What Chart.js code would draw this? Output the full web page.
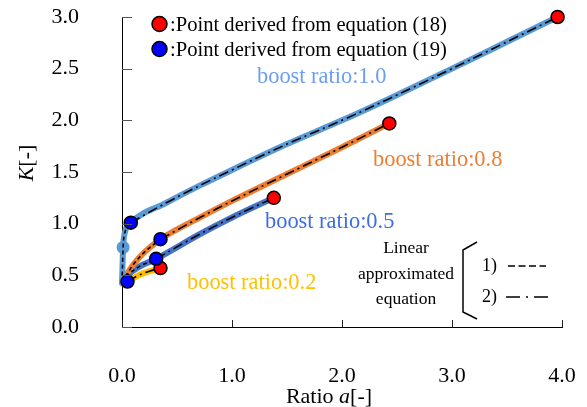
<!DOCTYPE html>
<html>
<head>
<meta charset="utf-8">
<script src="https://cdn.jsdelivr.net/npm/chart.js@4.4.1/dist/chart.umd.min.js"></script>
<style>
  html, body { margin: 0; padding: 0; background: #fff; }
  #box { position: relative; width: 587px; height: 407px; }
</style>
</head>
<body>
<div id="box"><canvas id="c"></canvas></div>
<script>
// Values: ratio a (x) against K (y) for each boost ratio.
// The blue point splits each curve into the part fitted by approximation 1)
// and the part fitted by approximation 2); the last sample is the red point.
const X_TICKS = [0, 1, 2, 3, 4];
const Y_TICKS = [0, 0.5, 1, 1.5, 2, 2.5, 3];

const ratio10 = [0.0, 0.005, 0.01, 0.03, 0.08, 0.4, 0.71, 1.0, 1.5, 2.0, 2.41, 3.0, 3.5, 3.96];
const k10 = [0.43, 0.6, 0.77, 0.93, 1.01, 1.2, 1.37, 1.52, 1.77, 2.0, 2.2, 2.5, 2.76, 3.0];
const blue10 = 4;

const ratio08 = [0.0, 0.05, 0.1, 0.2, 0.35, 0.71, 1.0, 1.5, 2.0, 2.43];
const k08 = [0.43, 0.52, 0.6, 0.72, 0.85, 1.06, 1.22, 1.48, 1.74, 1.97];
const blue08 = 4;

const ratio05 = [0.0, 0.05, 0.15, 0.31, 0.71, 1.0, 1.38];
const k05 = [0.43, 0.5, 0.58, 0.66, 0.9, 1.06, 1.25];
const blue05 = 3;

const ratio02 = [0.0, 0.05, 0.15, 0.25, 0.35];
const k02 = [0.42, 0.44, 0.5, 0.54, 0.57];
const blue02 = 1;

const SERIES = [
  {name: "boost ratio:1.0", ratio: ratio10, k: k10, blue: blue10, color: "#5B9BD5", text: "#6b9ef2"},
  {name: "boost ratio:0.8", ratio: ratio08, k: k08, blue: blue08, color: "#ED7D31", text: "#ED7D31"},
  {name: "boost ratio:0.5", ratio: ratio05, k: k05, blue: blue05, color: "#4472C4", text: "#3c6de6"},
  {name: "boost ratio:0.2", ratio: ratio02, k: k02, blue: blue02, color: "#FFC000", text: "#FFC000"},
];

const SERIF = "'Liberation Serif', 'Times New Roman', serif";

const pts = (xs, ys, from = 0, to = xs.length) =>
  xs.slice(from, to).map((x, i) => ({x, y: ys[from + i]}));

const datasets = [];
for (const s of SERIES) {
  datasets.push({
    label: s.name,
    data: pts(s.ratio, s.k),
    showLine: true,
    borderColor: s.color,
    backgroundColor: s.color,
    borderWidth: 6,
    borderCapStyle: "round",
    cubicInterpolationMode: "monotone",
    clip: false,
    // the light-blue curve shows one of its own sample dots near a = 0
    pointRadius: s.ratio === ratio10 ? (c) => (c.dataIndex === 2 ? 3.5 : 0) : 0,
    order: 3,
  });
  datasets.push({
    label: s.name + " approx 1)",
    data: pts(s.ratio, s.k, 0, s.blue + 1),
    showLine: true,
    borderColor: "#000",
    borderWidth: 1.6,
    borderDash: [4, 3],
    cubicInterpolationMode: "monotone",
    clip: false,
    pointRadius: 0,
    order: 2,
  });
  datasets.push({
    label: s.name + " approx 2)",
    data: pts(s.ratio, s.k, s.blue),
    showLine: true,
    borderColor: "#000",
    borderWidth: 1.6,
    borderDash: [10, 4, 2, 4],
    cubicInterpolationMode: "monotone",
    clip: false,
    pointRadius: 0,
    order: 2,
  });
}
datasets.push({
  label: "Point derived from equation (19)",
  data: SERIES.map((s) => ({x: s.ratio[s.blue], y: s.k[s.blue]})),
  pointRadius: 6.5,
  pointBackgroundColor: "#0000FF",
  pointBorderColor: "#000",
  pointBorderWidth: 1.5,
  showLine: false,
  clip: false,
  order: 0,
});
datasets.push({
  label: "Point derived from equation (18)",
  data: SERIES.map((s) => ({x: s.ratio[s.ratio.length - 1], y: s.k[s.k.length - 1]})),
  pointRadius: 6.5,
  pointBackgroundColor: "#FF0000",
  pointBorderColor: "#000",
  pointBorderWidth: 1.5,
  showLine: false,
  clip: false,
  order: 0,
});

// Inward tick marks, axis titles with italic symbols, the hand-made legend and
// the curve labels; the original figure has all of these as free text.
const decorPlugin = {
  id: "decor",
  afterDraw(chart) {
    const {ctx, scales: {x, y}, chartArea: a} = chart;
    ctx.save();

    ctx.lineWidth = 1;
    ctx.strokeStyle = "#555";
    for (const v of Y_TICKS) {
      const py = Math.round(y.getPixelForValue(v)) + 0.5;
      ctx.beginPath(); ctx.moveTo(a.left, py); ctx.lineTo(a.left + 10, py); ctx.stroke();
    }
    ctx.strokeStyle = "#222";
    for (const v of X_TICKS) {
      const px = Math.round(x.getPixelForValue(v)) + 0.5;
      ctx.beginPath(); ctx.moveTo(px, a.bottom); ctx.lineTo(px, a.bottom - 7); ctx.stroke();
    }

    const runs = (parts, size) => parts.map(([t, it]) => {
      ctx.font = `${it ? "italic " : ""}${size}px ${SERIF}`;
      return {t, it, w: ctx.measureText(t).width};
    });
    const drawRuns = (list, size, x0, y0) => {
      let cx = x0;
      for (const r of list) {
        ctx.font = `${r.it ? "italic " : ""}${size}px ${SERIF}`;
        ctx.fillText(r.t, cx, y0);
        cx += r.w;
      }
    };
    ctx.fillStyle = "#000";
    ctx.textAlign = "left";
    ctx.textBaseline = "alphabetic";

    // x title
    let r = runs([["Ratio ", false], ["a", true], ["[-]", false]], 22);
    let w = r.reduce((s, q) => s + q.w, 0);
    drawRuns(r, 22, 329 - w / 2, 403);

    // y title
    r = runs([["K", true], ["[-]", false]], 22);
    w = r.reduce((s, q) => s + q.w, 0);
    ctx.save();
    ctx.translate(33, 163);
    ctx.rotate(-Math.PI / 2);
    drawRuns(r, 22, -w / 2, 0);
    ctx.restore();

    // legend
    const legend = [["#FF0000", ":Point derived from equation (18)", 24], ["#0000FF", ":Point derived from equation (19)", 49]];
    for (const [fill, text, cy] of legend) {
      ctx.beginPath();
      ctx.arc(159.5, cy, 7.5, 0, Math.PI * 2);
      ctx.fillStyle = fill; ctx.fill();
      ctx.lineWidth = 1.5; ctx.strokeStyle = "#000"; ctx.stroke();
      ctx.fillStyle = "#000";
      ctx.font = `20.6px ${SERIF}`;
      ctx.fillText(text, 170, cy + 7);
    }

    // curve labels
    const labelAt = [[257, 83], [373, 166], [265, 228], [187, 289]];
    ctx.font = `22.4px ${SERIF}`;
    SERIES.forEach((s, i) => {
      ctx.fillStyle = s.text;
      ctx.fillText(s.name, labelAt[i][0], labelAt[i][1]);
    });

    // approximation key
    ctx.fillStyle = "#000";
    ctx.font = `17.5px ${SERIF}`;
    ctx.textAlign = "center";
    ctx.fillText("Linear", 406, 253);
    ctx.fillText("approximated", 406, 279);
    ctx.fillText("equation", 406, 304);
    ctx.textAlign = "left";
    ctx.lineWidth = 1.5;
    ctx.beginPath();
    ctx.moveTo(477, 242); ctx.lineTo(463, 250); ctx.lineTo(463, 312); ctx.lineTo(477, 319);
    ctx.stroke();
    ctx.font = `18px ${SERIF}`;
    ctx.fillText("1)", 482, 271);
    ctx.fillText("2)", 482, 302);
    ctx.lineWidth = 1.6;
    ctx.setLineDash([7, 3.5]);
    ctx.beginPath(); ctx.moveTo(508, 266); ctx.lineTo(546, 266); ctx.stroke();
    ctx.setLineDash([14, 6, 2, 6]);
    ctx.beginPath(); ctx.moveTo(506, 297); ctx.lineTo(548, 297); ctx.stroke();

    ctx.restore();
  },
};

new Chart(document.getElementById("c"), {
  type: "scatter",
  data: {datasets},
  plugins: [decorPlugin],
  options: {
    responsive: true,
    maintainAspectRatio: false,
    animation: false,
    layout: {padding: {top: 17, right: 25, left: 0, bottom: 0}},
    plugins: {legend: {display: false}, tooltip: {enabled: false}},
    scales: {
      x: {
        type: "linear",
        min: 0,
        max: 4,
        afterFit: (s) => { s.height = 80; s.paddingLeft = 0; s.paddingRight = 0; },
        afterBuildTicks: (s) => { s.ticks = X_TICKS.map((value) => ({value})); },
        ticks: {
          padding: 36,
          color: "#000",
          font: {family: SERIF, size: 22},
          callback: (v) => Number(v).toFixed(1),
        },
        grid: {display: false, drawTicks: false},
        border: {display: true, color: "#000", width: 1},
      },
      y: {
        type: "linear",
        min: 0,
        max: 3,
        afterFit: (s) => { s.width = 122; s.paddingTop = 0; s.paddingBottom = 0; },
        afterBuildTicks: (s) => { s.ticks = Y_TICKS.map((value) => ({value})); },
        ticks: {
          padding: 43,
          color: "#000",
          font: {family: SERIF, size: 22},
          callback: (v) => Number(v).toFixed(1),
        },
        grid: {display: false, drawTicks: false},
        border: {display: true, color: "#000", width: 1},
      },
    },
  },
});
</script>
</body>
</html>
